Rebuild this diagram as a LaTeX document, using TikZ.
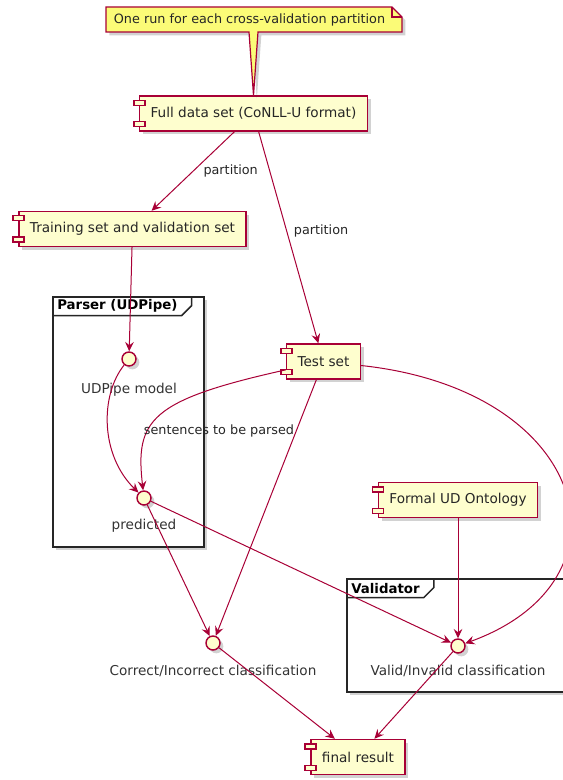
\documentclass[tikz,border=0pt]{standalone}
\usepackage{fontspec}
\setmainfont{DejaVu Sans}
\usetikzlibrary{arrows.meta, positioning, calc, shadows}
\definecolor{umlred}{HTML}{A80036}
\definecolor{umlfill}{HTML}{FEFECE}
\definecolor{notefill}{HTML}{FBFB77}

\tikzset{
  shadowed/.style={drop shadow={shadow xshift=2.5pt, shadow yshift=-2.5pt, opacity=0.25, fill=black!70}},
  comp/.style={draw=umlred, fill=umlfill, line width=1.1pt, inner xsep=8.25pt, inner ysep=0pt,
    minimum height=26.25pt, font=\fontsize{10.2}{12}\selectfont, text=black!85, shadowed},
  comptab/.style={draw=umlred, fill=umlfill, line width=1.1pt},
  iface/.style={circle, draw=umlred, fill=umlfill, line width=1.1pt, minimum size=10.5pt, inner sep=0pt, shadowed},
  ilabel/.style={font=\fontsize{10.2}{12}\selectfont, inner sep=0pt, text=black!80},
  conn/.style={draw=umlred, line width=0.75pt, -{Stealth[length=7pt, width=6.5pt, inset=2.5pt]}},
  elabel/.style={font=\fontsize{9.6}{11}\selectfont, inner sep=0pt, text=black!85},
  framebox/.style={draw=black!85, line width=1.1pt, fill=white, shadowed},
  ftitle/.style={font=\bfseries\fontsize{10}{12}\selectfont, inner xsep=3pt, inner ysep=0pt,
    minimum height=13.5pt, anchor=north west},
  fedge/.style={draw=black!85, line width=1.1pt},
  notebox/.style={draw=umlred, fill=notefill, line width=0.9pt, shadowed},
  notetext/.style={font=\fontsize{9.6}{11}\selectfont, inner sep=0pt, text=black!85}
}

\begin{document}
\begin{tikzpicture}[x=0.75pt, y=-0.75pt]
  \useasboundingbox (0,0) rectangle (562,780);

  % frames
  \draw[framebox] (53,297) rectangle (204,547);
  \node[ftitle] (parsertitle) at (53,297) {Parser (UDPipe)};
  \draw[fedge] (parsertitle.south west) -- (parsertitle.south east) -- ++(10,-10)
    -- ($(parsertitle.north east)+(10,0)$);
  \draw[framebox] (347,579) rectangle (575,692);
  \node[ftitle] (validtitle) at (347,579) {Validator};
  \draw[fedge] (validtitle.south west) -- (validtitle.south east) -- ++(10,-10)
    -- ($(validtitle.north east)+(10,0)$);

  % components
  \node[comp] (full) at (253.5,113.5) {Full data set (CoNLL-U format)};
  \node[comp] (train) at (132.5,229) {Training set and validation set};
  \node[comp] (test) at (323.5,361.5) {Test set};
  \node[comp] (onto) at (458,500) {Formal UD Ontology};
  \node[comp] (final) at (358,757) {final result};
  \foreach \n in {full,train,test,onto,final} {
    \draw[comptab] ($(\n.north west)+(-5,5)$) rectangle ++(11,5);
    \draw[comptab] ($(\n.south west)+(-5,-10)$) rectangle ++(11,5);
  }

  % note
  \draw[notebox] (106,7) -- (392,7) -- (402,17) -- (402,32) -- (258,32) -- (full.north)
    -- (249,32) -- (106,32) -- cycle;
  \draw[umlred, line width=0.9pt] (392,7) -- (392,17) -- (402,17);
  \node[notetext] (note) at (249.5,20) {One run for each cross-validation partition};

  % interfaces
  \node[iface] (model) at (129,359) {};
  \node[ilabel, below=12pt of model] (modellbl) {UDPipe model};
  \node[iface] (pred) at (144,498) {};
  \node[ilabel, below=10pt of pred] (predlbl) {predicted};
  \node[iface] (correct) at (213,643) {};
  \node[ilabel, below=10.5pt of correct] (correctlbl) {Correct/Incorrect classification};
  \node[iface] (valid) at (458,646) {};
  \node[ilabel, below=8pt of valid] (validlbl) {Valid/Invalid classification};

  % connectors
  \draw[conn] (full) -- node[elabel, pos=0.5, right=7.5pt] {partition} (train);
  \draw[conn] (full) -- node[elabel, pos=0.47, right=5pt] {partition} (test);
  \draw[conn] (train) -- (model);
  \draw[conn] (model) .. controls (100,395) and (100,455) .. (pred);
  \draw[conn] (test) .. controls (150,400) and (135,420) .. (pred);
  \node[elabel] (sentlbl) at (219,431) {sentences to be parsed};
  \draw[conn] (test) -- (correct);
  \draw[conn] (test) .. controls (590,390) and (640,580) .. (valid);
  \draw[conn] (onto) -- (valid);
  \draw[conn] (pred) -- (valid);
  \draw[conn] (pred) -- (correct);
  \draw[conn] (correct) -- (final);
  \draw[conn] (valid) -- (final);
\end{tikzpicture}
\end{document}
